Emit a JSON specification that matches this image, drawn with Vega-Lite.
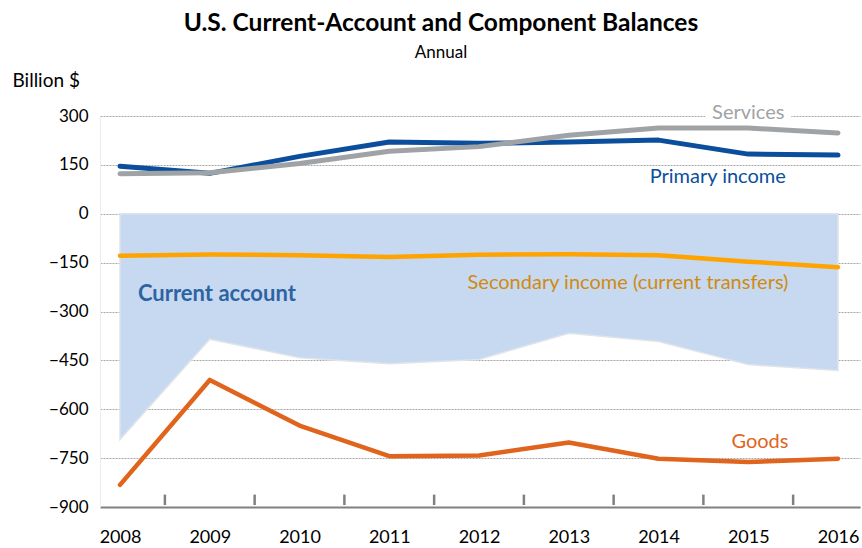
{
  "$schema": "https://vega.github.io/schema/vega-lite/v6.json",
  "width": 760,
  "height": 391,
  "autosize": {"type": "none"},
  "padding": {"left": 100, "top": 116, "right": 2, "bottom": 41},
  "background": "white",
  "config": {
    "font": "Lato",
    "view": {"stroke": null},
    "axis": {"labelFont": "Lato", "titleFont": "Lato"}
  },
  "title": {
    "text": "U.S. Current-Account and Component Balances",
    "subtitle": "Annual",
    "font": "Lato",
    "fontSize": 24.5,
    "fontWeight": "bold",
    "color": "#000000",
    "subtitleFont": "Lato",
    "subtitleFontSize": 17,
    "subtitleColor": "#000000",
    "subtitlePadding": 9,
    "anchor": "middle",
    "frame": "group",
    "dx": -39,
    "offset": 9
  },
  "datasets": {
    "balances": [
      {"year": 2008, "series": "Primary income", "value": 146},
      {"year": 2009, "series": "Primary income", "value": 124},
      {"year": 2010, "series": "Primary income", "value": 176},
      {"year": 2011, "series": "Primary income", "value": 220},
      {"year": 2012, "series": "Primary income", "value": 216},
      {"year": 2013, "series": "Primary income", "value": 220},
      {"year": 2014, "series": "Primary income", "value": 226},
      {"year": 2015, "series": "Primary income", "value": 183},
      {"year": 2016, "series": "Primary income", "value": 180},
      {"year": 2008, "series": "Services", "value": 123},
      {"year": 2009, "series": "Services", "value": 126},
      {"year": 2010, "series": "Services", "value": 154},
      {"year": 2011, "series": "Services", "value": 192},
      {"year": 2012, "series": "Services", "value": 206},
      {"year": 2013, "series": "Services", "value": 241},
      {"year": 2014, "series": "Services", "value": 263},
      {"year": 2015, "series": "Services", "value": 263},
      {"year": 2016, "series": "Services", "value": 248},
      {"year": 2008, "series": "Secondary income", "value": -129},
      {"year": 2009, "series": "Secondary income", "value": -125},
      {"year": 2010, "series": "Secondary income", "value": -127},
      {"year": 2011, "series": "Secondary income", "value": -133},
      {"year": 2012, "series": "Secondary income", "value": -126},
      {"year": 2013, "series": "Secondary income", "value": -124},
      {"year": 2014, "series": "Secondary income", "value": -127},
      {"year": 2015, "series": "Secondary income", "value": -147},
      {"year": 2016, "series": "Secondary income", "value": -164},
      {"year": 2008, "series": "Goods", "value": -832},
      {"year": 2009, "series": "Goods", "value": -510},
      {"year": 2010, "series": "Goods", "value": -650},
      {"year": 2011, "series": "Goods", "value": -744},
      {"year": 2012, "series": "Goods", "value": -742},
      {"year": 2013, "series": "Goods", "value": -702},
      {"year": 2014, "series": "Goods", "value": -752},
      {"year": 2015, "series": "Goods", "value": -762},
      {"year": 2016, "series": "Goods", "value": -752},
      {"year": 2008, "series": "Current account", "value": -693},
      {"year": 2009, "series": "Current account", "value": -385},
      {"year": 2010, "series": "Current account", "value": -442},
      {"year": 2011, "series": "Current account", "value": -460},
      {"year": 2012, "series": "Current account", "value": -447},
      {"year": 2013, "series": "Current account", "value": -367},
      {"year": 2014, "series": "Current account", "value": -392},
      {"year": 2015, "series": "Current account", "value": -463},
      {"year": 2016, "series": "Current account", "value": -481}
    ],
    "midticks": [
      {"mid": 2008.5}, {"mid": 2009.5}, {"mid": 2010.5}, {"mid": 2011.5},
      {"mid": 2012.5}, {"mid": 2013.5}, {"mid": 2014.5}, {"mid": 2015.5}
    ],
    "labels": [
      {"label": "Services", "year": 2015.0, "value": 308},
      {"label": "Primary income", "year": 2014.66, "value": 113},
      {"label": "Secondary income (current transfers)", "year": 2013.66, "value": -211},
      {"label": "Goods", "year": 2015.13, "value": -699},
      {"label": "Current account", "year": 2008.2, "value": -247}
    ]
  },
  "layer": [
    {
      "data": {"name": "balances"},
      "transform": [{"filter": "datum.series === 'Current account'"}],
      "mark": {"type": "area", "color": "#c6d9f0", "stroke": "#dfe4ea", "strokeWidth": 1.5, "opacity": 1},
      "encoding": {
        "x": {
          "field": "year",
          "type": "quantitative",
          "scale": {"domain": [2007.777, 2016.245], "nice": false, "zero": false},
          "axis": {
            "values": [2008, 2009, 2010, 2011, 2012, 2013, 2014, 2015, 2016],
            "format": "d",
            "title": null,
            "grid": false,
            "ticks": false,
            "tickSize": 0,
            "labelPadding": 21,
            "labelFontSize": 18,
            "labelColor": "#000000",
            "domainColor": "#808080",
            "domainWidth": 2
          }
        },
        "y": {
          "field": "value",
          "type": "quantitative",
          "scale": {"domain": [-900, 300], "nice": false, "zero": false},
          "axis": {
            "values": [-900, -750, -600, -450, -300, -150, 0, 150, 300],
            "title": "Billion $",
            "titleAngle": 0,
            "titleAlign": "left",
            "titleBaseline": "alphabetic",
            "titleX": -88,
            "titleY": -30,
            "titleFontSize": 19,
            "titleFontWeight": "normal",
            "titleColor": "#000000",
            "ticks": false,
            "labelPadding": 12,
            "labelFontSize": 17,
            "labelColor": "#000000",
            "domainColor": "#ececec",
            "domainWidth": 1,
            "grid": true,
            "gridColor": "#a6a6a6",
            "gridDash": [2, 1],
            "gridWidth": 1
          }
        },
        "y2": {"datum": 0}
      }
    },
    {
      "data": {"name": "midticks"},
      "mark": {"type": "rule", "color": "#808080", "strokeWidth": 2.5},
      "encoding": {
        "x": {"field": "mid", "type": "quantitative"},
        "y": {"datum": -862, "type": "quantitative"},
        "y2": {"datum": -894}
      }
    },
    {
      "data": {"name": "labels"},
      "transform": [{"filter": "datum.label === 'Services'"}],
      "mark": {"type": "rect", "color": "white"},
      "encoding": {
        "x": {"datum": 2014.52, "type": "quantitative"},
        "x2": {"datum": 2015.48},
        "y": {"datum": 290, "type": "quantitative"},
        "y2": {"datum": 330}
      }
    },
    {
      "data": {"name": "balances"},
      "transform": [{"filter": "datum.series === 'Goods'"}],
      "mark": {"type": "line", "color": "#e0641c", "strokeWidth": 4.5, "strokeCap": "round", "strokeJoin": "round"},
      "encoding": {
        "x": {"field": "year", "type": "quantitative"},
        "y": {"field": "value", "type": "quantitative"}
      }
    },
    {
      "data": {"name": "balances"},
      "transform": [{"filter": "datum.series === 'Secondary income'"}],
      "mark": {"type": "line", "color": "#ffa300", "strokeWidth": 4.5, "strokeCap": "round", "strokeJoin": "round"},
      "encoding": {
        "x": {"field": "year", "type": "quantitative"},
        "y": {"field": "value", "type": "quantitative"}
      }
    },
    {
      "data": {"name": "balances"},
      "transform": [{"filter": "datum.series === 'Primary income'"}],
      "mark": {"type": "line", "color": "#0b4f9c", "strokeWidth": 5, "strokeCap": "round", "strokeJoin": "round"},
      "encoding": {
        "x": {"field": "year", "type": "quantitative"},
        "y": {"field": "value", "type": "quantitative"}
      }
    },
    {
      "data": {"name": "balances"},
      "transform": [{"filter": "datum.series === 'Services'"}],
      "mark": {"type": "line", "color": "#a0a3a5", "strokeWidth": 5, "strokeCap": "round", "strokeJoin": "round"},
      "encoding": {
        "x": {"field": "year", "type": "quantitative"},
        "y": {"field": "value", "type": "quantitative"}
      }
    },
    {
      "data": {"name": "labels"},
      "transform": [{"filter": "datum.label !== 'Current account'"}],
      "mark": {"type": "text", "fontSize": 20, "align": "center", "baseline": "middle"},
      "encoding": {
        "x": {"field": "year", "type": "quantitative"},
        "y": {"field": "value", "type": "quantitative"},
        "text": {"field": "label"},
        "color": {
          "field": "label",
          "type": "nominal",
          "scale": {
            "domain": ["Services", "Primary income", "Secondary income (current transfers)", "Goods"],
            "range": ["#a0a3a5", "#0b4f9c", "#d08a10", "#e0641c"]
          },
          "legend": null
        }
      }
    },
    {
      "data": {"name": "labels"},
      "transform": [{"filter": "datum.label === 'Current account'"}],
      "mark": {"type": "text", "fontSize": 22, "fontWeight": "bold", "color": "#2e63a3", "align": "left", "baseline": "middle"},
      "encoding": {
        "x": {"field": "year", "type": "quantitative"},
        "y": {"field": "value", "type": "quantitative"},
        "text": {"field": "label"}
      }
    }
  ]
}
